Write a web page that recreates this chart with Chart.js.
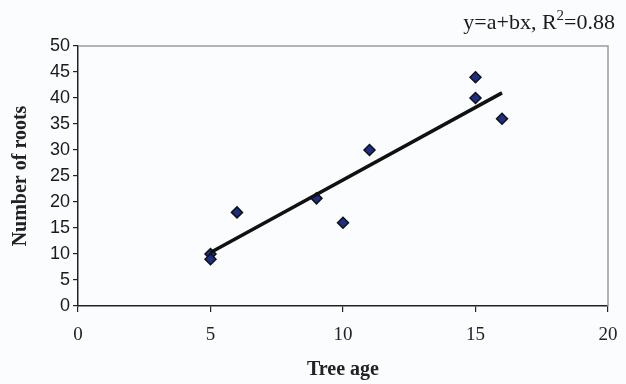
<!DOCTYPE html>
<html>
<head>
<meta charset="utf-8">
<script src="https://cdn.jsdelivr.net/npm/chart.js@4"></script>
<style>
  html, body { margin: 0; padding: 0; background: #fbfcfe; }
  #wrap { width: 626px; height: 384px; }
</style>
</head>
<body>
<div id="wrap"><canvas id="chart" width="626" height="384"></canvas></div>
<script>
// tree age vs number of roots
const treeAge = [5, 5, 6, 9, 10, 11, 15, 15, 16];
const rootCount = [10, 9, 18, 20.7, 16, 30, 44, 40, 36];
const xTicks = [0, 5, 10, 15, 20];
const yTicks = [0, 5, 10, 15, 20, 25, 30, 35, 40, 45, 50];

// least squares fit for the trend line
const n = treeAge.length;
const mx = treeAge.reduce((a, v) => a + v, 0) / n;
const my = rootCount.reduce((a, v) => a + v, 0) / n;
let sxy = 0, sxx = 0;
treeAge.forEach((x, i) => {
    sxy += (x - mx) * (rootCount[i] - my);
    sxx += (x - mx) * (x - mx);
});
const slope = sxy / sxx;
const intercept = my - slope * mx;
const xMin = Math.min(...treeAge), xMax = Math.max(...treeAge);
const trend = [
    { x: xMin, y: intercept + slope * xMin },
    { x: xMax, y: intercept + slope * xMax },
];

const frame = {
    id: "frame",
    afterDraw(chart) {
        const { ctx, chartArea: a } = chart;
        ctx.save();
        ctx.strokeStyle = "#9a9a9a";
        ctx.lineWidth = 1.5;
        ctx.beginPath();
        ctx.moveTo(a.left, a.top);
        ctx.lineTo(a.right, a.top);
        ctx.lineTo(a.right, a.bottom);
        ctx.stroke();
        // equation label, top right
        ctx.fillStyle = "#1a1a1a";
        ctx.textAlign = "right";
        ctx.textBaseline = "alphabetic";
        const right = 615;
        const base = 29;
        ctx.font = "22px 'Liberation Serif'";
        const txt = "=0.88";
        ctx.fillText(txt, right, base);
        const w1 = ctx.measureText(txt).width;
        ctx.font = "15px 'Liberation Serif'";
        ctx.fillText("2", right - w1, base - 9);
        const w2 = ctx.measureText("2").width;
        ctx.font = "22px 'Liberation Serif'";
        ctx.fillText("y=a+bx, R", right - w1 - w2, base);
        ctx.restore();
    },
};

new Chart(document.getElementById("chart"), {
    type: "scatter",
    data: {
        datasets: [
            {
                label: "Trend",
                type: "line",
                data: trend,
                borderColor: "#111",
                borderWidth: 3.5,
                pointRadius: 0,
                fill: false,
            },
            {
                label: "Roots",
                data: treeAge.map((x, i) => ({ x, y: rootCount[i] })),
                pointStyle: "rectRot",
                pointRadius: 5.5,
                backgroundColor: "#1c2f86",
                borderColor: "#111",
                borderWidth: 1.5,
            },
        ],
    },
    plugins: [frame],
    options: {
        responsive: false,
        animation: false,
        layout: { padding: { top: 46, right: 18, left: 0, bottom: 0 } },
        plugins: {
            legend: { display: false },
            tooltip: { enabled: false },
        },
        scales: {
            x: {
                type: "linear",
                min: 0,
                max: 20,
                afterBuildTicks: (s) => { s.ticks = xTicks.map((v) => ({ value: v })); },
                afterFit: (s) => {
                    s.height = 78;
                    s.paddingLeft = 0;
                    s.paddingRight = 0;
                },
                grid: { drawOnChartArea: false, drawTicks: true, tickLength: 6, color: "#222", lineWidth: 1.2 },
                border: { color: "#222", width: 1.5 },
                ticks: { color: "#222", padding: 12, maxRotation: 0, font: { family: "Liberation Serif", size: 19 } },
                title: {
                    display: true,
                    text: "Tree age",
                    color: "#222",
                    padding: { top: 4, bottom: 2 },
                    font: { family: "Liberation Serif", size: 20, weight: "bold" },
                },
            },
            y: {
                min: 0,
                max: 50,
                afterBuildTicks: (s) => { s.ticks = yTicks.map((v) => ({ value: v })); },
                afterFit: (s) => {
                    s.width = 78;
                    s.paddingTop = 0;
                    s.paddingBottom = 0;
                },
                grid: { drawOnChartArea: false, drawTicks: true, tickLength: 5, color: "#222", lineWidth: 1.2 },
                border: { color: "#222", width: 1.5 },
                ticks: { color: "#1a1a1a", padding: 3, font: { family: "Liberation Sans", size: 18 } },
                title: {
                    display: true,
                    text: "Number of roots",
                    color: "#222",
                    padding: { top: 9, bottom: 4 },
                    font: { family: "Liberation Serif", size: 20, weight: "bold" },
                },
            },
        },
    },
});
</script>
</body>
</html>
